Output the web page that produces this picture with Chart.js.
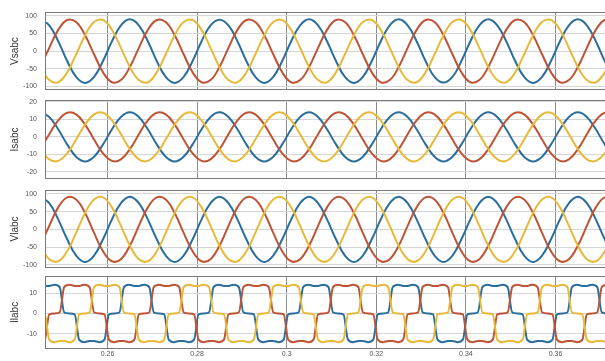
<!DOCTYPE html>
<html>
<head>
<meta charset="utf-8">
<script src="https://cdn.jsdelivr.net/npm/chart.js@4.4.0/dist/chart.umd.min.js"></script>
<style>
html, body { margin: 0; padding: 0; background: #fff; overflow: hidden; width: 605px; height: 361px; }
canvas { position: absolute; left: 0; top: 0; }
</style>
</head>
<body>
<canvas id="p1" width="620" height="361"></canvas>
<canvas id="p2" width="620" height="361"></canvas>
<canvas id="p3" width="620" height="361"></canvas>
<canvas id="p4" width="620" height="361"></canvas>
<script>
// shared time axis
const xTickValues = [0.26, 0.28, 0.3, 0.32, 0.34, 0.36];
const xTickLabels = ['0.26', '0.28', '0.3', '0.32', '0.34', '0.36'];
const vTicks = [-100, -50, 0, 50, 100];
const iTicks = [-20, -10, 0, 10, 20];
const ilTicks = [-10, 0, 10];

// sampled times for the sine panels (s)
const tSine = [
  0.245,0.247,0.249,0.251,0.253,0.255,0.257,0.259,0.261,0.263,
  0.265,0.267,0.269,0.271,0.273,0.275,0.277,0.279,0.281,0.283,
  0.285,0.287,0.289,0.291,0.293,0.295,0.297,0.299,0.301,0.303,
  0.305,0.307,0.309,0.311,0.313,0.315,0.317,0.319,0.321,0.323,
  0.325,0.327,0.329,0.331,0.333,0.335,0.337,0.339,0.341,0.343,
  0.345,0.347,0.349,0.351,0.353,0.355,0.357,0.359,0.361,0.363,
  0.365,0.367,0.369,0.371,0.373
];

// Vsabc
const vsA = [
  90,73,28,-28,-73,-90,-73,-28,28,73,
  90,73,28,-28,-73,-90,-73,-28,28,73,
  89,73,28,-28,-73,-90,-73,-28,28,73,
  90,73,28,-28,-73,-90,-73,-28,28,73,
  90,73,28,-28,-73,-89,-73,-28,28,73,
  90,73,28,-28,-73,-90,-73,-28,28,73,
  90,73,28,-28,-73
];
const vsB = [
  -45,9,60,88,82,45,-9,-60,-88,-82,
  -45,9,60,88,82,45,-9,-60,-88,-82,
  -45,9,60,88,82,45,-9,-60,-88,-82,
  -45,9,60,88,82,45,-9,-60,-88,-82,
  -45,9,60,88,82,45,-9,-60,-88,-82,
  -45,9,60,88,82,45,-9,-60,-88,-82,
  -45,9,60,88,82
];
const vsC = [
  -45,-82,-88,-60,-9,45,82,88,60,9,
  -45,-82,-88,-60,-9,45,82,88,60,9,
  -45,-82,-88,-60,-9,45,82,88,60,9,
  -45,-82,-88,-60,-9,45,82,88,60,9,
  -45,-82,-88,-60,-9,45,82,88,60,9,
  -45,-82,-88,-60,-9,45,82,88,60,9,
  -45,-82,-88,-60,-9
];

// Isabc
const isA = [
  14,11.3,4.3,-4.3,-11.3,-14,-11.3,-4.3,4.3,11.3,
  14,11.3,4.3,-4.3,-11.3,-14,-11.3,-4.3,4.3,11.3,
  14,11.3,4.3,-4.3,-11.3,-14,-11.3,-4.3,4.3,11.3,
  14,11.3,4.3,-4.3,-11.3,-14,-11.3,-4.3,4.3,11.3,
  14,11.3,4.3,-4.3,-11.3,-14,-11.3,-4.3,4.3,11.3,
  14,11.3,4.3,-4.3,-11.3,-14,-11.3,-4.3,4.3,11.3,
  14,11.3,4.3,-4.3,-11.3
];
const isB = [
  -7,1.5,9.4,13.7,12.8,7,-1.5,-9.4,-13.7,-12.8,
  -7,1.5,9.4,13.7,12.8,7,-1.5,-9.4,-13.7,-12.8,
  -7,1.5,9.4,13.7,12.8,7,-1.5,-9.4,-13.7,-12.8,
  -7,1.5,9.4,13.7,12.8,7,-1.5,-9.4,-13.7,-12.8,
  -7,1.5,9.4,13.7,12.8,7,-1.5,-9.4,-13.7,-12.8,
  -7,1.5,9.4,13.7,12.8,7,-1.5,-9.4,-13.7,-12.8,
  -7,1.5,9.4,13.7,12.8
];
const isC = [
  -7,-12.8,-13.7,-9.4,-1.5,7,12.8,13.7,9.4,1.5,
  -7,-12.8,-13.7,-9.4,-1.5,7,12.8,13.7,9.4,1.5,
  -7,-12.8,-13.7,-9.4,-1.5,7,12.8,13.7,9.4,1.5,
  -7,-12.8,-13.7,-9.4,-1.5,7,12.8,13.7,9.4,1.5,
  -7,-12.8,-13.7,-9.4,-1.5,7,12.8,13.7,9.4,1.5,
  -7,-12.8,-13.7,-9.4,-1.5,7,12.8,13.7,9.4,1.5,
  -7,-12.8,-13.7,-9.4,-1.5
];

// Vlabc
const vlA = [
  92,74,28,-28,-74,-92,-74,-28,28,74,
  92,74,28,-28,-74,-92,-74,-28,28,74,
  92,74,28,-28,-74,-92,-74,-28,28,74,
  92,74,28,-28,-74,-92,-74,-28,28,74,
  92,74,28,-28,-74,-92,-74,-28,28,74,
  92,74,28,-28,-74,-92,-74,-28,28,74,
  92,74,28,-28,-74
];
const vlB = [
  -46,10,62,90,84,46,-10,-62,-90,-84,
  -46,10,62,90,84,46,-10,-62,-90,-84,
  -46,10,62,90,84,46,-10,-62,-90,-84,
  -46,10,62,90,84,46,-10,-62,-90,-84,
  -46,10,62,90,84,46,-10,-62,-90,-84,
  -46,10,62,90,84,46,-10,-62,-90,-84,
  -46,10,62,90,84
];
const vlC = [
  -46,-84,-90,-62,-10,46,84,90,62,10,
  -46,-84,-90,-62,-10,46,84,90,62,10,
  -46,-84,-90,-62,-10,46,84,90,62,10,
  -46,-84,-90,-62,-10,46,84,90,62,10,
  -46,-84,-90,-62,-10,46,84,90,62,10,
  -46,-84,-90,-62,-10,46,84,90,62,10,
  -46,-84,-90,-62,-10
];

// Ilabc (six-step load current)
const tStep = [
  0.24367,0.24483,0.24600,0.24700,0.24817,0.24933,0.25033,0.25150,0.25267,
  0.25367,0.25483,0.25600,0.25700,0.25817,0.25933,0.26033,0.26150,0.26267,
  0.26367,0.26483,0.26600,0.26700,0.26817,0.26933,0.27033,0.27150,0.27267,
  0.27367,0.27483,0.27600,0.27700,0.27817,0.27933,0.28033,0.28150,0.28267,
  0.28367,0.28483,0.28600,0.28700,0.28817,0.28933,0.29033,0.29150,0.29267,
  0.29367,0.29483,0.29600,0.29700,0.29817,0.29933,0.30033,0.30150,0.30267,
  0.30367,0.30483,0.30600,0.30700,0.30817,0.30933,0.31033,0.31150,0.31267,
  0.31367,0.31483,0.31600,0.31700,0.31817,0.31933,0.32033,0.32150,0.32267,
  0.32367,0.32483,0.32600,0.32700,0.32817,0.32933,0.33033,0.33150,0.33267,
  0.33367,0.33483,0.33600,0.33700,0.33817,0.33933,0.34033,0.34150,0.34267,
  0.34367,0.34483,0.34600,0.34700,0.34817,0.34933,0.35033,0.35150,0.35267,
  0.35367,0.35483,0.35600,0.35700,0.35817,0.35933,0.36033,0.36150,0.36267,
  0.36367,0.36483,0.36600,0.36700,0.36817,0.36933,0.37033,0.37150,0.37267
];
const ilA = [
  13.0,14.2,13.6,13.6,14.2,13.0,0.5,0,-0.5,
  -13.0,-14.2,-13.6,-13.6,-14.2,-13.0,-0.5,0,0.5,
  13.0,14.2,13.6,13.6,14.2,13.0,0.5,0,-0.5,
  -13.0,-14.2,-13.6,-13.6,-14.2,-13.0,-0.5,0,0.5,
  13.0,14.2,13.6,13.6,14.2,13.0,0.5,0,-0.5,
  -13.0,-14.2,-13.6,-13.6,-14.2,-13.0,-0.5,0,0.5,
  13.0,14.2,13.6,13.6,14.2,13.0,0.5,0,-0.5,
  -13.0,-14.2,-13.6,-13.6,-14.2,-13.0,-0.5,0,0.5,
  13.0,14.2,13.6,13.6,14.2,13.0,0.5,0,-0.5,
  -13.0,-14.2,-13.6,-13.6,-14.2,-13.0,-0.5,0,0.5,
  13.0,14.2,13.6,13.6,14.2,13.0,0.5,0,-0.5,
  -13.0,-14.2,-13.6,-13.6,-14.2,-13.0,-0.5,0,0.5,
  13.0,14.2,13.6,13.6,14.2,13.0,0.5,0,-0.5
];
const ilB = [
  -13.6,-14.2,-13.0,-0.5,0,0.5,13.0,14.2,13.6,
  13.6,14.2,13.0,0.5,0,-0.5,-13.0,-14.2,-13.6,
  -13.6,-14.2,-13.0,-0.5,0,0.5,13.0,14.2,13.6,
  13.6,14.2,13.0,0.5,0,-0.5,-13.0,-14.2,-13.6,
  -13.6,-14.2,-13.0,-0.5,0,0.5,13.0,14.2,13.6,
  13.6,14.2,13.0,0.5,0,-0.5,-13.0,-14.2,-13.6,
  -13.6,-14.2,-13.0,-0.5,0,0.5,13.0,14.2,13.6,
  13.6,14.2,13.0,0.5,0,-0.5,-13.0,-14.2,-13.6,
  -13.6,-14.2,-13.0,-0.5,0,0.5,13.0,14.2,13.6,
  13.6,14.2,13.0,0.5,0,-0.5,-13.0,-14.2,-13.6,
  -13.6,-14.2,-13.0,-0.5,0,0.5,13.0,14.2,13.6,
  13.6,14.2,13.0,0.5,0,-0.5,-13.0,-14.2,-13.6,
  -13.6,-14.2,-13.0,-0.5,0,0.5,13.0,14.2,13.6
];
const ilC = [
  0.5,0,-0.5,-13.0,-14.2,-13.6,-13.6,-14.2,-13.0,
  -0.5,0,0.5,13.0,14.2,13.6,13.6,14.2,13.0,
  0.5,0,-0.5,-13.0,-14.2,-13.6,-13.6,-14.2,-13.0,
  -0.5,0,0.5,13.0,14.2,13.6,13.6,14.2,13.0,
  0.5,0,-0.5,-13.0,-14.2,-13.6,-13.6,-14.2,-13.0,
  -0.5,0,0.5,13.0,14.2,13.6,13.6,14.2,13.0,
  0.5,0,-0.5,-13.0,-14.2,-13.6,-13.6,-14.2,-13.0,
  -0.5,0,0.5,13.0,14.2,13.6,13.6,14.2,13.0,
  0.5,0,-0.5,-13.0,-14.2,-13.6,-13.6,-14.2,-13.0,
  -0.5,0,0.5,13.0,14.2,13.6,13.6,14.2,13.0,
  0.5,0,-0.5,-13.0,-14.2,-13.6,-13.6,-14.2,-13.0,
  -0.5,0,0.5,13.0,14.2,13.6,13.6,14.2,13.0,
  0.5,0,-0.5,-13.0,-14.2,-13.6,-13.6,-14.2,-13.0
];

const BLUE = '#2c6e9b', RED = '#bd5436', YELLOW = '#e7b93a';
const X_MIN = 0.24605, X_MAX = 0.3744;

Chart.defaults.font.family = '"Liberation Sans", Arial, sans-serif';

const frame = {
  id: 'frame',
  afterDatasetsDraw(chart) {
    const { ctx, chartArea: a } = chart;
    ctx.save();
    ctx.strokeStyle = '#7a7a7a';
    ctx.lineWidth = 1;
    ctx.strokeRect(Math.round(a.left) + 0.5, Math.round(a.top) + 0.5, a.right - a.left, Math.round(a.bottom - a.top) - 1);
    ctx.restore();
  }
};

function panel(id, top, bottom, yMin, yMax, yTicks, title, times, a, b, c, smooth, showX) {
  const ds = (vals, color, order) => ({
    data: times.map((t, i) => ({ x: t, y: vals[i] })),
    borderColor: color,
    borderWidth: 2,
    pointRadius: 0,
    order: order,
    tension: 0.4,
    cubicInterpolationMode: smooth ? 'default' : 'monotone',
    fill: false
  });
  const xh = showX ? 10 : 0;
  return new Chart(document.getElementById(id), {
    type: 'line',
    data: { datasets: [ds(a, BLUE, 3), ds(b, RED, 2), ds(c, YELLOW, 1)] },
    options: {
      responsive: false,
      animation: false,
      devicePixelRatio: 1,
      events: [],
      layout: { padding: { top: top, bottom: 361 - bottom - xh, left: 0, right: 0 } },
      plugins: { legend: { display: false }, tooltip: { enabled: false } },
      scales: {
        x: {
          type: 'linear', min: X_MIN, max: X_MAX,
          afterBuildTicks: s => { s.ticks = xTickValues.map(v => ({ value: v })); },
          afterFit: s => { s.height = xh; },
          grid: { color: '#8c8c8c', drawTicks: false },
          border: { display: false },
          ticks: {
            display: showX, padding: 1, color: '#555', font: { size: 7 },
            maxRotation: 0, autoSkip: false,
            callback: (v, i) => xTickLabels[i]
          }
        },
        y: {
          min: yMin, max: yMax,
          afterBuildTicks: s => { s.ticks = yTicks.map(v => ({ value: v })); },
          afterFit: s => { s.width = 45; },
          grid: { color: '#d6d6d6', drawTicks: false },
          border: { display: false },
          ticks: { padding: 8, color: '#555', font: { size: 7 }, callback: v => String(v) },
          title: { display: true, text: title, color: '#333', font: { size: 10 }, padding: { top: 9, bottom: 0 } }
        }
      }
    },
    plugins: [frame]
  });
}

panel('p1', 12, 90, -110, 110, vTicks, 'Vsabc', tSine, vsA, vsB, vsC, true, false);
panel('p2', 100, 179, -24, 21, iTicks, 'Isabc', tSine, isA, isB, isC, true, false);
panel('p3', 190, 268, -109, 111, vTicks, 'Vlabc', tSine, vlA, vlB, vlC, true, false);
panel('p4', 276, 351, -17.5, 18.5, ilTicks, 'Ilabc', tStep, ilA, ilB, ilC, false, true);
</script>
</body>
</html>
